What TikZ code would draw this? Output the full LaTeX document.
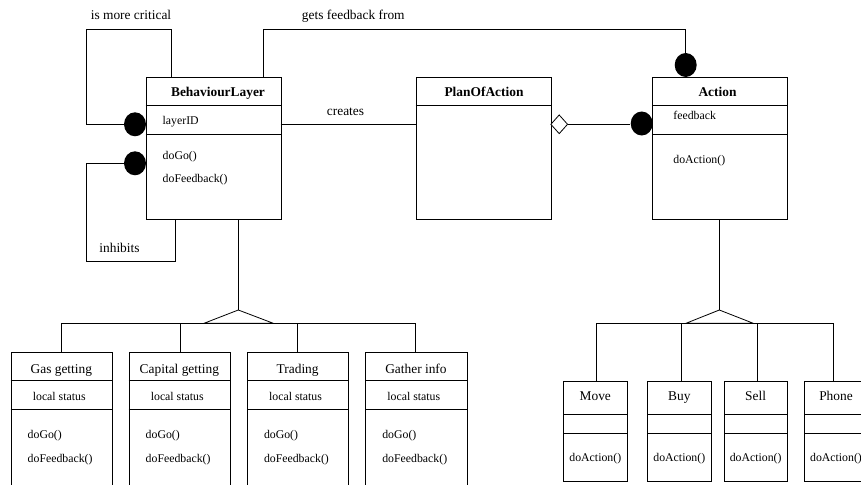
\documentclass[tikz,border=0pt]{standalone}
\usepackage{fontspec}
\setmainfont{Liberation Serif}
\usetikzlibrary{calc,shapes.geometric}
\begin{document}
\begin{tikzpicture}[x=1pt,y=-1pt,
  line width=0.8pt,
  classbox/.style={draw, rectangle, inner sep=0pt, anchor=north west},
  big/.style={font=\fontsize{13.4}{15}\selectfont, inner sep=0pt, anchor=base},
  bigb/.style={font=\fontsize{13.4}{15}\selectfont\bfseries, inner sep=0pt, anchor=base},
  member/.style={font=\fontsize{11.8}{14}\selectfont, inner sep=0pt, anchor=base west},
  membc/.style={font=\fontsize{11.8}{14}\selectfont, inner sep=0pt, anchor=base},
  ball/.style={fill=black, draw=none, ellipse, minimum width=22pt, minimum height=24pt, inner sep=0pt},
  agg/.style={draw, fill=white, diamond, minimum width=17pt, minimum height=19pt, inner sep=0pt},
]
\clip (0,0) rectangle (861,484);

% ---- upper classes ----
\node[classbox, minimum width=135pt, minimum height=142.3pt] (bl) at (145.7,77) {};
\node[classbox, minimum width=135pt, minimum height=142.3pt] (plan) at (415.7,77) {};
\node[classbox, minimum width=135.3pt, minimum height=142.3pt] (act) at (652,77) {};
\draw (145.7,105.7) -- (280.7,105.7) (145.7,134) -- (280.7,134);
\draw (415.7,105.7) -- (550.7,105.7);
\draw (652,105.7) -- (787.3,105.7) (652,134) -- (787.3,134);

\node[bigb] (blT) at (218,96) {BehaviourLayer};
\node[member] (blA) at (162.3,124.3) {layerID};
\node[member] (blM1) at (162.3,159) {doGo()};
\node[member] (blM2) at (162.3,182.7) {doFeedback()};

\node[bigb] (planT) at (484,96) {PlanOfAction};

\node[bigb] (actT) at (717.5,96) {Action};
\node[member] (actA) at (673,120) {feedback};
\node[member] (actM) at (673,163.3) {doAction()};

% ---- association ends ----
\node[ball] (b1) at (135,124.3) {};
\node[ball] (b2) at (135,163.3) {};
\node[ball] (b3) at (685.7,65) {};
\node[ball] (b4) at (641.7,123.5) {};
\node[agg]  (dia) at (559.2,124.3) {};

\coordinate (c1) at (171.3,77);
\coordinate (c2) at (86.7,29.3);
\draw (c1) |- (c2) |- (b1.west);
\node[big] (lcrit) at (131,20) {is more critical};

\coordinate (i1) at (86.7,261.7);
\coordinate (i2) at (175.7,219.3);
\draw (b2.west) -| (i1) -| (i2);
\node[big] (linh) at (119.5,252.3) {inhibits};

\coordinate (f1) at (263.7,77);
\coordinate (f2) at (263.7,29.3);
\draw (f1) -- (f2) -| (b3.north);
\node[big] (lfb) at (353.3,20) {gets feedback from};

\draw (280.7,124.3) -- (415.7,124.3);
\node[big] (lcr) at (345.5,115) {creates};

\draw (dia.east) -- (b4.west |- dia.east);

% ---- generalisation: BehaviourLayer ----
\coordinate (g1) at (238.3,219.3);
\coordinate (g1a) at (238.3,310);
\draw (g1) -- (g1a);
\draw (g1a) -- (204,323.3) -- (273.3,323.3) -- cycle;
\draw (61,323.3) -- (415.7,323.3);

\foreach \nm/\x/\t in {gas/10.7/Gas getting, cap/128.7/Capital getting, trd/247/Trading, gat/365.3/Gather info}{
  \node[classbox, minimum width=101.3pt, minimum height=160pt] (\nm) at (\x,352.3) {};
  \draw (\x,380.7) -- ++(101.3,0) (\x,409) -- ++(101.3,0);
  \node[big] (\nm T) at ($(\x,373.3)+(50.65,0)$) {\t};
  \node[membc] (\nm A) at ($(\x,400.3)+(48.5,0)$) {local status};
  \node[member] (\nm M1) at ($(\x,438.3)+(16.6,0)$) {doGo()};
  \node[member] (\nm M2) at ($(\x,462.3)+(16.6,0)$) {doFeedback()};
}
\foreach \nm/\x in {gas/61, cap/180, trd/297.3, gat/415.7}{
  \draw (\x,323.3) -- (\x,352.3);
}

% ---- generalisation: Action ----
\coordinate (g2) at (719.3,219.3);
\coordinate (g2a) at (719.3,310);
\draw (g2) -- (g2a);
\draw (g2a) -- (686,323.3) -- (753.3,323.3) -- cycle;
\draw (596.7,323.3) -- (833.3,323.3);

\foreach \nm/\x/\w/\t in {mov/563.3/64/Move, buy/647.3/64/Buy, sel/724.3/62.7/Sell, pho/804/64/Phone}{
  \node[classbox, minimum width=\w pt, minimum height=100pt] (\nm) at (\x,380.7) {};
  \draw (\x,414.3) -- ++(\w,0) (\x,433.3) -- ++(\w,0);
  \node[big] (\nm T) at ($(\x,400)+(\w/2,0)$) {\t};
  \node[membc] (\nm M) at ($(\x,461.7)+(\w/2,0)$) {doAction()};
}
\foreach \x in {596.7, 681.7, 757.3, 833.3}{
  \draw (\x,323.3) -- (\x,380.7);
}
\end{tikzpicture}
\end{document}
